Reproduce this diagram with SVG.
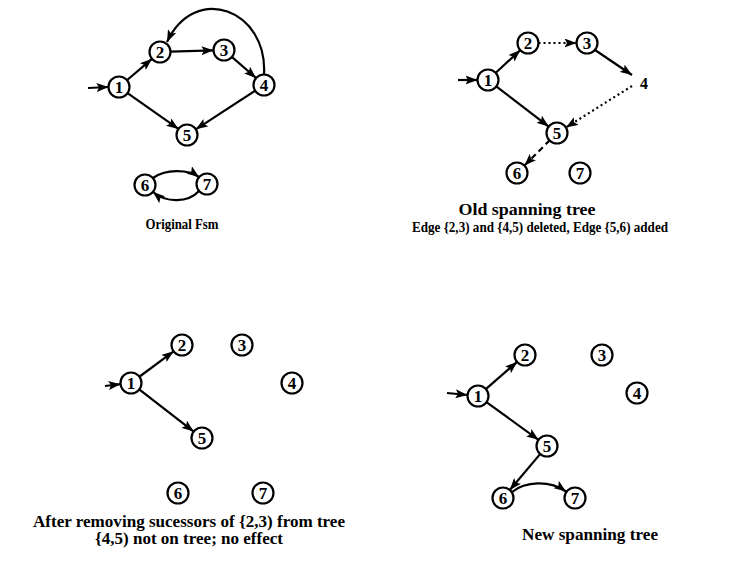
<svg xmlns="http://www.w3.org/2000/svg" width="748" height="567" viewBox="0 0 748 567">
  <defs>
    <marker id="arrow" markerUnits="userSpaceOnUse" markerWidth="12" markerHeight="9" refX="12" refY="4.5" orient="auto">
      <path d="M0,0 L12,4.5 L0,9 L2.5,4.5 z" fill="#000"/>
    </marker>
    <style>
      .node circle { fill: #fff; stroke: #000; stroke-width: 2.2; }
      .node text { font-family: "Liberation Serif", "Times New Roman", serif; font-weight: bold; font-size: 17px; text-anchor: middle; fill: #000; }
      .edge { fill: none; stroke: #000; stroke-width: 2.2; }
      .arr { marker-end: url(#arrow); }
      .dotted { stroke-dasharray: 2 3; }
      .dashed { stroke-dasharray: 6 4; }
      .caption { font-family: "Liberation Serif", "Times New Roman", serif; font-weight: bold; font-size: 16px; text-anchor: middle; fill: #000; }
      .small { font-size: 14px; }
      .free { font-family: "Liberation Serif", "Times New Roman", serif; font-weight: bold; font-size: 16px; text-anchor: middle; fill: #000; }
    </style>
  </defs>
  <rect width="748" height="567" fill="#fff"/>

  <!-- Connectors -->
  <g id="connectors">
    <!-- Original Fsm -->
    <path class="edge arr" d="M88 88 L108.5 87"/>
    <path class="edge arr" d="M126.6 80.5 L152 58.8"/>
    <path class="edge arr" d="M170.5 51.7 L213.5 50.3"/>
    <path class="edge arr" d="M231.5 56.6 L256.1 78"/>
    <path class="edge arr" d="M255.6 90.4 L195.8 129.3"/>
    <path class="edge arr" d="M127.2 92.8 L178.4 128.9"/>
    <path class="edge arr" d="M264 74.5 C268 10, 195 -18, 167 42"/>
    <path class="edge arr" d="M153 178 C165 169, 188 169, 199 177"/>
    <path class="edge arr" d="M199 191 C188 203, 166 203, 153 192"/>

    <!-- Old spanning tree -->
    <path class="edge arr" d="M458 80 L477.5 80"/>
    <path class="edge arr" d="M495.3 73.2 L520.3 50.1"/>
    <path class="edge arr dotted" d="M538.5 43 L576.5 43"/>
    <path class="edge arr" d="M595 50 L632 75"/>
    <path class="edge arr dotted" d="M632 86 L566 127.4"/>
    <path class="edge arr" d="M495.9 86.1 L548.7 126.6"/>
    <path class="edge arr dashed" d="M549.9 140.1 L524.4 165.6"/>

    <!-- After removing successors -->
    <path class="edge arr" d="M105 386 L120.5 384.2"/>
    <path class="edge arr" d="M139 377 L173.6 351.3"/>
    <path class="edge arr" d="M138.9 389.1 L193.7 431.6"/>

    <!-- New spanning tree -->
    <path class="edge arr" d="M447 393 L467.5 395"/>
    <path class="edge arr" d="M485.5 389.4 L517.1 361.9"/>
    <path class="edge arr" d="M486.1 401.9 L538.5 439.8"/>
    <path class="edge arr" d="M540.5 453.6 L509.8 490"/>
    <path class="edge arr" d="M512 492 C525 481, 550 480, 566 491.5"/>
  </g>

  <!-- Original Fsm nodes -->
  <g id="a1" class="node"><circle cx="119" cy="87" r="10.5"/><text x="119" y="93">1</text></g>
  <g id="a2" class="node"><circle cx="160" cy="52" r="10.5"/><text x="160" y="58">2</text></g>
  <g id="a3" class="node"><circle cx="224" cy="50" r="10.5"/><text x="224" y="56">3</text></g>
  <g id="a4" class="node"><circle cx="264" cy="85" r="10.5"/><text x="264" y="91">4</text></g>
  <g id="a5" class="node"><circle cx="187" cy="135" r="10.5"/><text x="187" y="141">5</text></g>
  <g id="a6" class="node"><circle cx="145" cy="185" r="10.5"/><text x="145" y="191">6</text></g>
  <g id="a7" class="node"><circle cx="207" cy="184" r="10.5"/><text x="207" y="190">7</text></g>
  <text class="caption small" x="182" y="229" textLength="73" lengthAdjust="spacingAndGlyphs">Original  Fsm</text>

  <!-- Old spanning tree nodes -->
  <g id="b1" class="node"><circle cx="488" cy="80" r="10.5"/><text x="488" y="86">1</text></g>
  <g id="b2" class="node"><circle cx="528" cy="43" r="10.5"/><text x="528" y="49">2</text></g>
  <g id="b3" class="node"><circle cx="587" cy="43" r="10.5"/><text x="587" y="49">3</text></g>
  <g id="b4"><text class="free" x="644" y="89">4</text></g>
  <g id="b5" class="node"><circle cx="557" cy="133" r="10.5"/><text x="557" y="139">5</text></g>
  <g id="b6" class="node"><circle cx="517" cy="173" r="10.5"/><text x="517" y="179">6</text></g>
  <g id="b7" class="node"><circle cx="580" cy="173" r="10.5"/><text x="580" y="179">7</text></g>
  <text class="caption" x="527" y="215" textLength="137" lengthAdjust="spacingAndGlyphs">Old spanning tree</text>
  <text class="caption small" x="540" y="232" textLength="256" lengthAdjust="spacingAndGlyphs">Edge {2,3) and {4,5) deleted, Edge {5,6) added</text>

  <!-- After removing successors nodes -->
  <g id="c1" class="node"><circle cx="131" cy="383" r="10.5"/><text x="131" y="389">1</text></g>
  <g id="c2" class="node"><circle cx="182" cy="345" r="10.5"/><text x="182" y="351">2</text></g>
  <g id="c3" class="node"><circle cx="242" cy="345" r="10.5"/><text x="242" y="351">3</text></g>
  <g id="c4" class="node"><circle cx="292" cy="383" r="10.5"/><text x="292" y="389">4</text></g>
  <g id="c5" class="node"><circle cx="202" cy="438" r="10.5"/><text x="202" y="444">5</text></g>
  <g id="c6" class="node"><circle cx="178" cy="493" r="10.5"/><text x="178" y="499">6</text></g>
  <g id="c7" class="node"><circle cx="263" cy="493" r="10.5"/><text x="263" y="499">7</text></g>
  <text class="caption" x="189" y="527" textLength="312" lengthAdjust="spacingAndGlyphs">After removing sucessors of {2,3) from tree</text>
  <text class="caption" x="189" y="544" textLength="188" lengthAdjust="spacingAndGlyphs">{4,5) not on tree; no effect</text>

  <!-- New spanning tree nodes -->
  <g id="d1" class="node"><circle cx="478" cy="396" r="10.5"/><text x="478" y="402">1</text></g>
  <g id="d2" class="node"><circle cx="525" cy="355" r="10.5"/><text x="525" y="361">2</text></g>
  <g id="d3" class="node"><circle cx="602" cy="355" r="10.5"/><text x="602" y="361">3</text></g>
  <g id="d4" class="node"><circle cx="637" cy="393" r="10.5"/><text x="637" y="399">4</text></g>
  <g id="d5" class="node"><circle cx="547" cy="446" r="10.5"/><text x="547" y="452">5</text></g>
  <g id="d6" class="node"><circle cx="503" cy="498" r="10.5"/><text x="503" y="504">6</text></g>
  <g id="d7" class="node"><circle cx="575" cy="498" r="10.5"/><text x="575" y="504">7</text></g>
  <text class="caption" x="590" y="540" textLength="136" lengthAdjust="spacingAndGlyphs">New spanning tree</text>
</svg>
